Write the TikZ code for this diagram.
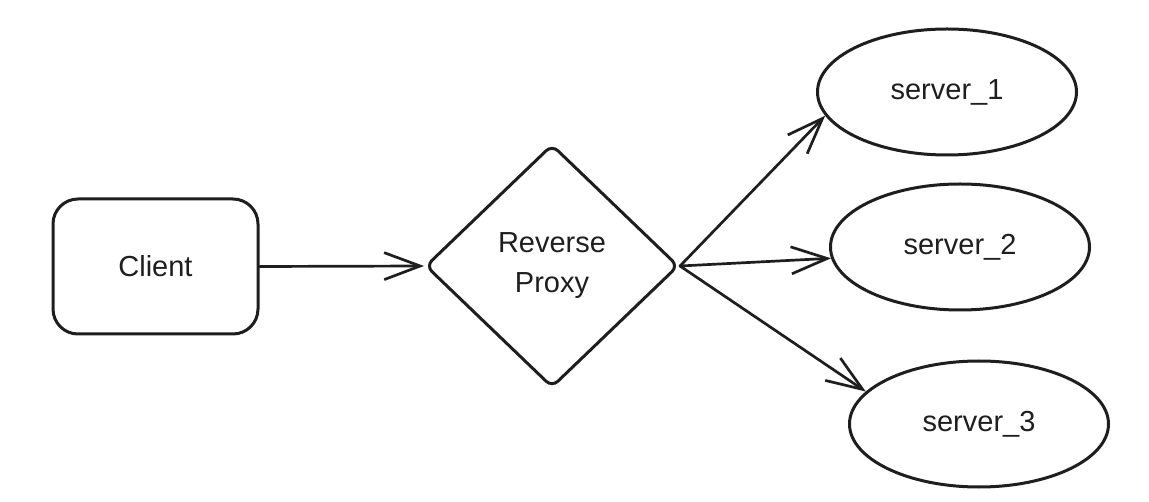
\documentclass[tikz,border=0pt]{standalone}
\usepackage{fontspec}
\setmainfont{Liberation Sans}
\usetikzlibrary{shapes.geometric,arrows.meta}
\definecolor{ink}{HTML}{1E1E1E}
\tikzset{
  shp/.style={draw=ink, line width=3pt, text=ink, inner sep=0pt,
    font=\fontsize{29}{40}\selectfont},
  clientbox/.style={shp, rectangle, rounded corners=25pt, minimum width=205pt, minimum height=135pt},
  proxybox/.style={shp, diamond, rounded corners=8pt, minimum width=253pt, minimum height=243pt, align=center},
  serverbox/.style={shp, ellipse, minimum width=259pt, minimum height=126pt},
  conn/.style={draw=ink, line width=2.7pt, line cap=round,
    -{Straight Barb[length=36pt,width=27pt,line width=2.7pt]}}
}
\begin{document}
\begin{tikzpicture}[x=1pt,y=-1pt]
\useasboundingbox (0,0) rectangle (1149,502);
\node[clientbox] (client) at (155.5,266.5) {Client};
\node[proxybox] (proxy) at (552,266) {Reverse\\Proxy};
\node[serverbox] (s1) at (947,92) {server\_1};
\node[serverbox] (s2) at (960,247) {server\_2};
\node[serverbox] (s3) at (979,424) {server\_3};
\draw[conn] (client.east) -- (proxy.west);
\draw[conn] (proxy.east) -- (s1.191);
\draw[conn] (proxy.east) -- (s2.185);
\draw[conn] (proxy.east) -- (s3.164);
\end{tikzpicture}
\end{document}
